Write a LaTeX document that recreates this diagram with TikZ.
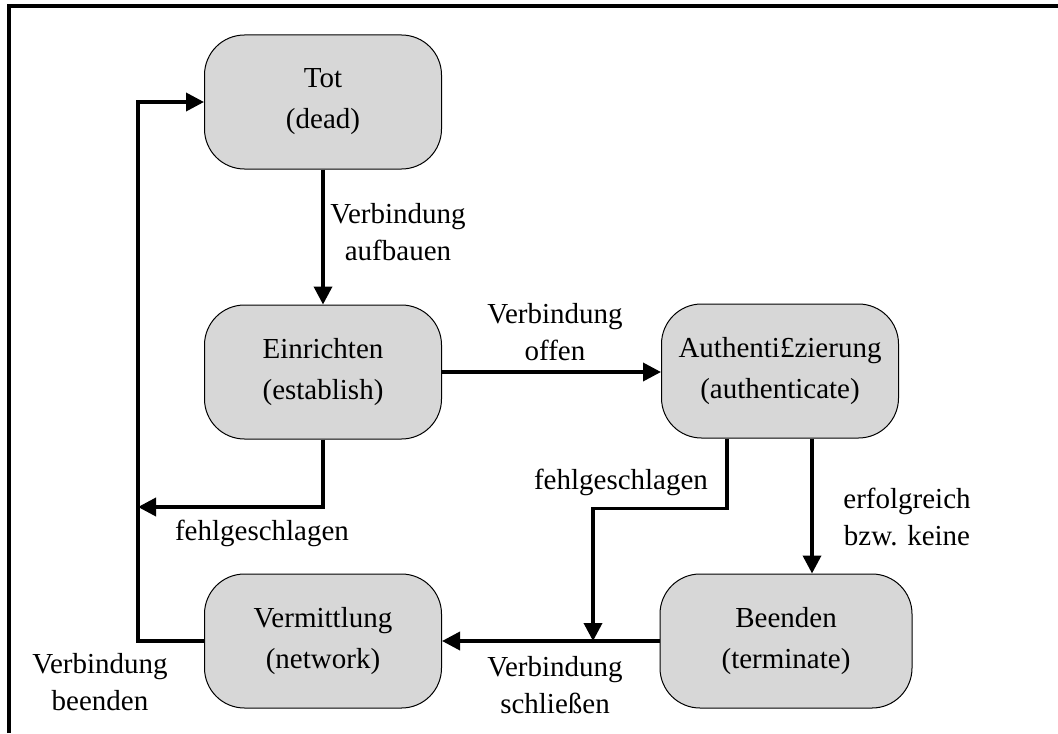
\documentclass[tikz,border=0pt]{standalone}
\usepackage{fontspec}
\setmainfont{Liberation Serif}
\usetikzlibrary{positioning,arrows.meta}
\definecolor{stategray}{RGB}{215,215,215}

\begin{document}
\begin{tikzpicture}[x=0.5pt,y=-0.5pt,
          state/.style={draw,line width=0.5pt,fill=stategray,
            rounded corners=20pt,align=center,
            font=\fontsize{14.5}{20.5}\selectfont,
            minimum width=118.5pt,minimum height=67pt},
          lbl/.style={align=center,font=\fontsize{14.5}{18.5}\selectfont},
          arr/.style={-{Triangle[length=9pt,width=9pt]},line width=1.8pt}]

        \useasboundingbox (0,0) rectangle (1058,733);
        \draw[line width=2pt] (8.5,733) -- (8.5,6.5) -- (1058,6.5);

        \node[state] (dead) at (323,102) {Tot\\(dead)};
        \node[state] (establish) at (323,372) {Einrichten\\(establish)};
        \node[state] (auth) at (780,371) {Authenti£zierung\\(authenticate)};
        \node[state] (network) at (323,641) {Vermittlung\\(network)};
        \node[state,minimum width=126pt] (terminate) at (786,641)
          {Beenden\\(terminate)};

        \coordinate (loop) at (138,102);
        \coordinate (fail) at (138,507);
        \coordinate (merge) at (593,641);

        \draw[arr] (dead) -- (establish);
        \draw[arr] (establish.east) -- (establish.east -| auth.west);
        \draw[arr] (establish.south) |- (fail);
        \draw[arr] (network.west) -| (loop) -- (dead.west);
        \draw[arr] ([xshift=-26.5pt]auth.south) -- ++(0,70) -| (merge);
        \draw[arr] ([xshift=16pt]auth.south)
          -- ([xshift=16pt]auth.south |- terminate.north);
        \draw[arr] (terminate.west) -- (network.east);

        \node[lbl] (l1) at (398,232) {Verbindung\\aufbauen};
        \node[lbl] (l2) at (555,332) {Verbindung\\offen};
        \node[lbl] (l3) at (262,533) {fehlgeschlagen};
        \node[lbl] (l4) at (621,482) {fehlgeschlagen};
        \node[lbl] (l5) at (907,517) {erfolgreich\\bzw. keine};
        \node[lbl] (l6) at (555,685) {Verbindung\\schließen};
        \node[lbl] (l7) at (100,682) {Verbindung\\beenden};

      \end{tikzpicture}
\end{document}
